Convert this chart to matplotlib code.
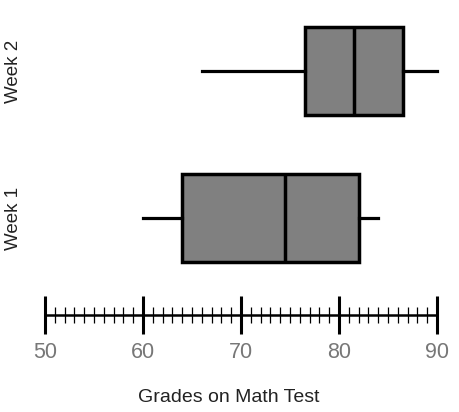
import numpy as np
import matplotlib.pyplot as plt
from matplotlib.ticker import FixedLocator

# five-number summaries
groups = ["Week 1", "Week 2"]
mins = [60, 66]
q1s = [64, 76.5]
medians = [74.5, 81.5]
q3s = [82, 86.5]
maxs = [84, 90]

xticks = [50, 60, 70, 80, 90]
minor_ticks = [v for v in range(51, 90) if v % 10 != 0]

plt.rcParams['font.family'] = ['Liberation Sans', 'DejaVu Sans']

fig = plt.figure(figsize=(4.6, 4.12), dpi=100)
# axes: left px 30 .. right px 450, bottom px 315 .. top px 10
ax = fig.add_axes([30 / 460, (412 - 315) / 412, 420 / 460, 305 / 412])
px = 9.8  # pixels per grade point
ax.set_xlim(50 - 15 / px, 50 + 405 / px)
ax.set_ylim(0, 3.05)

stats = []
for g, lo, a, m, b, hi in zip(groups, mins, q1s, medians, q3s, maxs):
    stats.append(dict(label=g, whislo=lo, q1=a, med=m, q3=b, whishi=hi, fliers=[]))

ax.bxp(stats, positions=[0.97, 2.44], widths=0.88, vert=False,
       patch_artist=True, showcaps=False, showfliers=False,
       boxprops=dict(facecolor='#808080', edgecolor='black', linewidth=2.5),
       medianprops=dict(color='black', linewidth=2.5),
       whiskerprops=dict(color='black', linewidth=2.3))

for s in ['top', 'right', 'left']:
    ax.spines[s].set_visible(False)
ax.spines['bottom'].set_bounds(50, 90)
ax.spines['bottom'].set_linewidth(1.8)

ax.set_xticks(xticks)
ax.set_xticklabels([str(t) for t in xticks])
ax.xaxis.set_minor_locator(FixedLocator(minor_ticks))
ax.tick_params(axis='x', which='major', direction='inout', length=27, width=2.2,
               pad=6, labelsize=15.5, labelcolor='#777777', color='black')
ax.tick_params(axis='x', which='minor', direction='inout', length=11, width=0.9,
               color='black')

ax.set_yticks([0.97, 2.44])
ax.set_yticklabels(groups, rotation=90, va='center', fontsize=13.5, color='#222222')
ax.tick_params(axis='y', length=0, pad=6)

fig.text(229 / 460, 1 - 398 / 412, "Grades on Math Test", ha='center', va='center',
         fontsize=14, color='#222222')

fig.savefig('out.png', dpi=100)
